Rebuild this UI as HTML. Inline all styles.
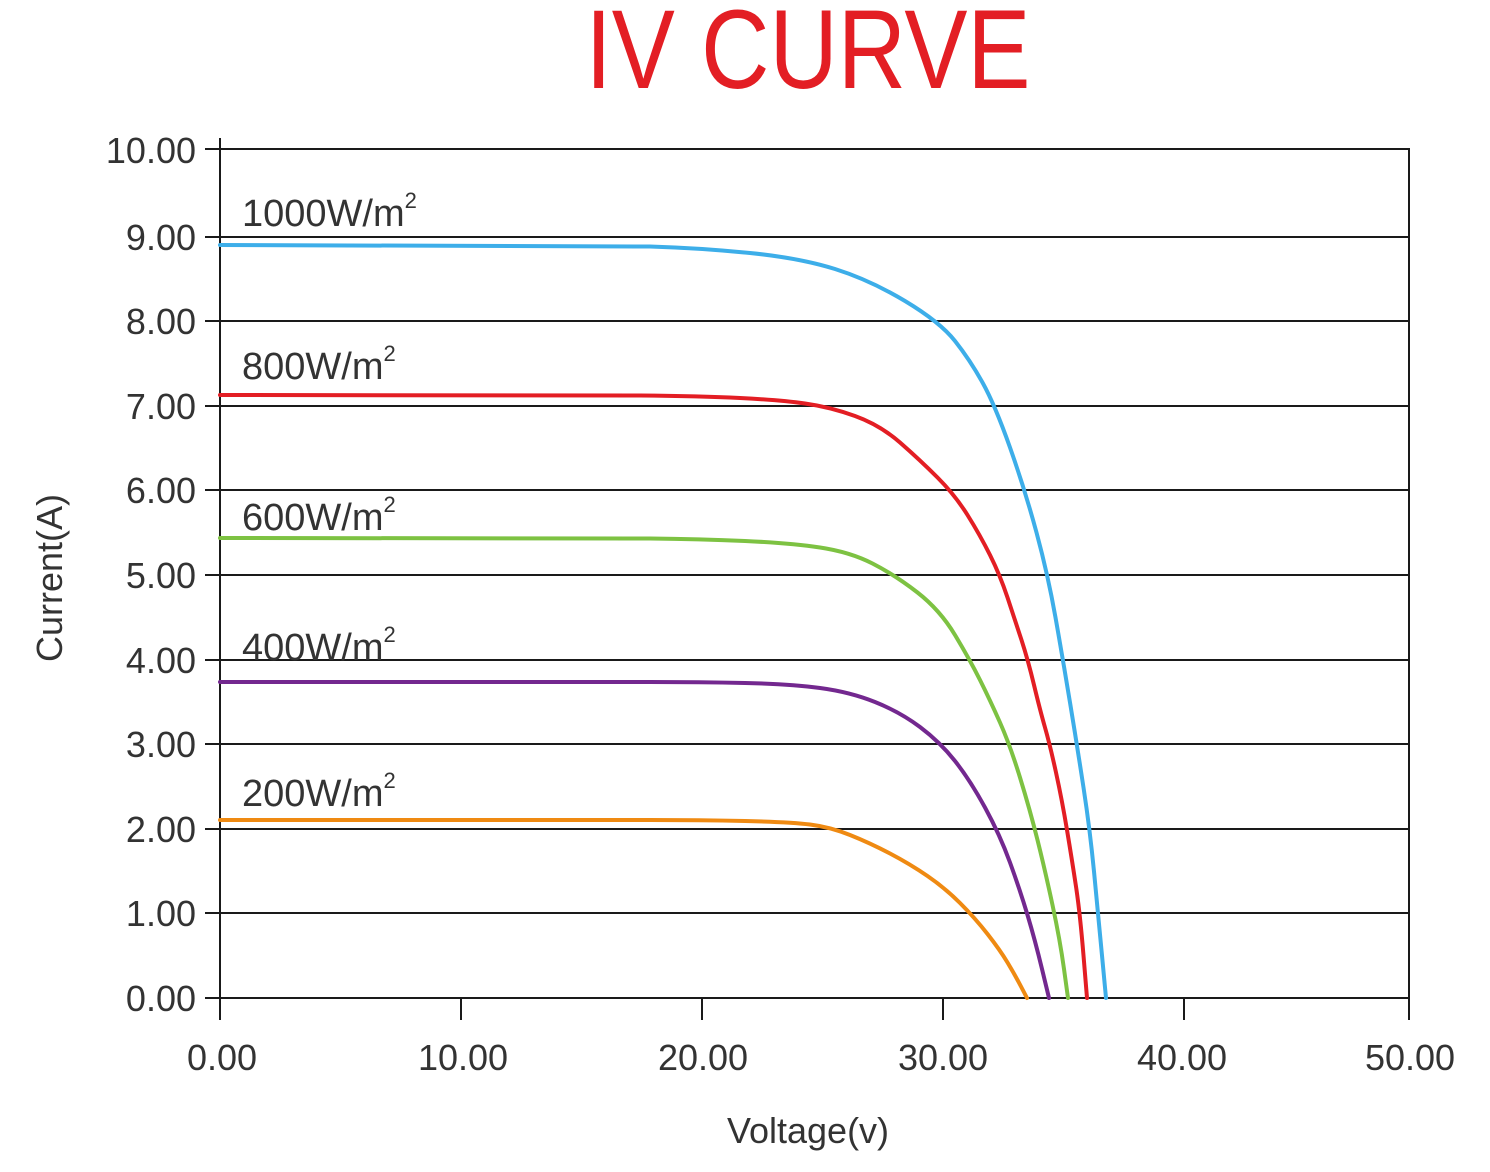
<!DOCTYPE html>
<html><head><style>body{margin:0;background:#fff}</style></head><body>
<svg width="1490" height="1167" xmlns="http://www.w3.org/2000/svg" font-family="Liberation Sans, sans-serif">
<rect width="1490" height="1167" fill="#fff"/>
<text x="808" y="88" font-size="112" fill="#e31e24" text-anchor="middle" textLength="445" lengthAdjust="spacingAndGlyphs">IV CURVE</text>
<g stroke="#1a1a1a" stroke-width="2">
<line x1="205" y1="149" x2="1410" y2="149"/>
<line x1="205" y1="237" x2="1410" y2="237"/>
<line x1="205" y1="321" x2="1410" y2="321"/>
<line x1="205" y1="406" x2="1410" y2="406"/>
<line x1="205" y1="490" x2="1410" y2="490"/>
<line x1="205" y1="575" x2="1410" y2="575"/>
<line x1="205" y1="660" x2="1410" y2="660"/>
<line x1="205" y1="744" x2="1410" y2="744"/>
<line x1="205" y1="829" x2="1410" y2="829"/>
<line x1="205" y1="913" x2="1410" y2="913"/>
<line x1="205" y1="998" x2="1410" y2="998"/>
<line x1="220" y1="138" x2="220" y2="1020"/>
<line x1="1409" y1="149" x2="1409" y2="1020"/>
<line x1="461" y1="998" x2="461" y2="1020"/>
<line x1="702" y1="998" x2="702" y2="1020"/>
<line x1="943" y1="998" x2="943" y2="1020"/>
<line x1="1184" y1="998" x2="1184" y2="1020"/>
</g>
<g font-size="36" fill="#333" text-anchor="end">
<text x="196" y="163">10.00</text><text x="196" y="250">9.00</text><text x="196" y="334">8.00</text>
<text x="196" y="419">7.00</text><text x="196" y="503">6.00</text><text x="196" y="588">5.00</text>
<text x="196" y="673">4.00</text><text x="196" y="757">3.00</text><text x="196" y="842">2.00</text>
<text x="196" y="926">1.00</text><text x="196" y="1011">0.00</text>
</g>
<g font-size="36" fill="#333" text-anchor="middle">
<text x="222" y="1070">0.00</text><text x="463" y="1070">10.00</text><text x="703" y="1070">20.00</text>
<text x="943" y="1070">30.00</text><text x="1182" y="1070">40.00</text><text x="1410" y="1070">50.00</text>
<text x="808" y="1143">Voltage(v)</text>
<text transform="translate(62,578) rotate(-90)">Current(A)</text>
</g>
<g font-size="38" fill="#333">
<text x="242" y="226">1000W/m<tspan font-size="22" dy="-18">2</tspan></text>
<text x="242" y="379">800W/m<tspan font-size="22" dy="-18">2</tspan></text>
<text x="242" y="530">600W/m<tspan font-size="22" dy="-18">2</tspan></text>
<text x="242" y="660">400W/m<tspan font-size="22" dy="-18">2</tspan></text>
<text x="242" y="806">200W/m<tspan font-size="22" dy="-18">2</tspan></text>
</g>
<g fill="none" stroke-width="4" stroke-linejoin="round" stroke-linecap="round">
<path stroke="#3daee9" d="M220,245 L650,246.5 Q700,248 750,253 Q800,258 835,269 Q870,280 905,301 Q940,322 955,341 Q970,360 982.5,382.5 Q995,405 1010,447.5 Q1025,490 1036.5,532.5 Q1048,575 1055.5,617.5 Q1063,660 1070,702.5 Q1077,745 1083.5,787.5 Q1090,830 1094,871.5 Q1098,913 1102,955.5 L1106,998"/>
<path stroke="#e31e24" d="M220,395 L640,395.5 Q700,396 740,398 Q780,400 805,403.5 Q830,407 855,416 Q880,425 900,442.5 Q920,460 937.5,477.5 Q955,495 967.5,515 Q980,535 990,555 Q1000,575 1007.5,597.5 Q1015,620 1021.5,640 Q1028,660 1034,685 Q1040,710 1045,727.5 Q1050,745 1056,772.5 Q1062,800 1067,830 Q1072,860 1076,886.5 Q1080,913 1083.5,955.5 L1087,998"/>
<path stroke="#7dc242" d="M220,538 L650,538.5 Q700,539 745,541 Q790,543 820,547.5 Q850,552 872.5,563.5 Q895,575 917.5,592.5 Q940,610 955,635 Q970,660 980,680 Q990,700 1000,722.5 Q1010,745 1020,777.5 Q1030,810 1037.5,840 Q1045,870 1052.5,905 Q1060,940 1064,969 L1068,998"/>
<path stroke="#73288f" d="M220,682 L650,682 Q700,682 745,683 Q790,684 820,688 Q850,692 875,702 Q900,712 920,727 Q940,742 955,761 Q970,780 985,807.5 Q1000,835 1010,862.5 Q1020,890 1027.5,915 Q1035,940 1042,969 L1049,998"/>
<path stroke="#ef8a12" d="M220,820 L650,820 Q700,820 745,821 Q790,822 810,824.5 Q830,827 850,835 Q870,843 890,853.5 Q910,864 927.5,876 Q945,888 960,903 Q975,918 987.5,934 Q1000,950 1007.5,962.5 Q1015,975 1021,986.5 L1027,998"/>
</g>
</svg>
</body></html>
